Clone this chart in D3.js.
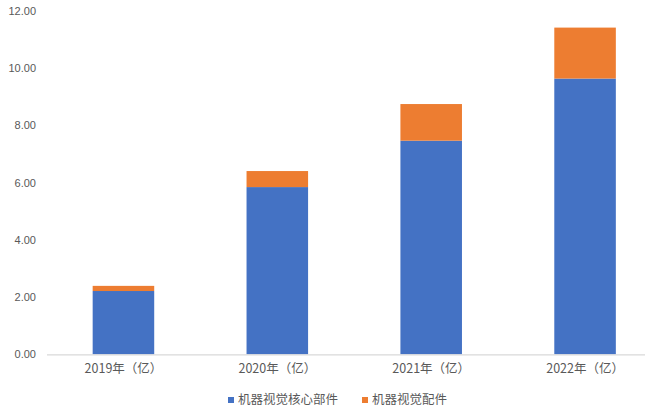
<!DOCTYPE html>
<html>
<head>
<meta charset="utf-8">
<script src="https://cdn.jsdelivr.net/npm/d3@7"></script>
<style>
  body { margin: 0; background: #fff; }
  text { font-family: "Noto Sans CJK SC", "Noto Sans", sans-serif; fill: #595959; }
</style>
</head>
<body>
<script>
var years = ["2019年（亿）", "2020年（亿）", "2021年（亿）", "2022年（亿）"];
var coreParts = [2.21, 5.84, 7.46, 9.63];     // 机器视觉核心部件
var accessories = [0.18, 0.56, 1.28, 1.78];   // 机器视觉配件
var seriesNames = ["机器视觉核心部件", "机器视觉配件"];
var yTicks = [0, 2, 4, 6, 8, 10, 12];

var width = 645;
var height = 412;
var colors = ["#4472c4", "#ed7d31"];

var svg = d3.select("body")
  .append("svg")
  .attr("width", width)
  .attr("height", height);

var x = d3.scaleBand()
  .domain(years)
  .range([46.5, 662])
  .paddingInner(0.6)
  .paddingOuter(0.3);

var y = d3.scaleLinear()
  .domain([0, 12])
  .range([354.3, 10.7]);

// stacked data
var rows = years.map(function(d, i) {
  return { year: d, core: coreParts[i], acc: accessories[i] };
});
var stack = d3.stack().keys(["core", "acc"]);
var layers = stack(rows);

// y axis labels only
var yAxis = svg.append("g")
  .attr("transform", "translate(36,0)")
  .call(d3.axisLeft(y).tickValues(yTicks).tickFormat(d3.format(".2f")).tickSize(0).tickPadding(0));
yAxis.select(".domain").remove();
yAxis.selectAll("text")
  .attr("font-size", 11)
  .style("font-family", "'Liberation Sans', 'Noto Sans', sans-serif")
  .attr("fill", "#595959");

// bars
svg.selectAll("g.layer")
  .data(layers)
  .enter()
  .append("g")
  .attr("class", "layer")
  .attr("fill", function(d, i) { return colors[i]; })
  .selectAll("rect")
  .data(function(d) { return d; })
  .enter()
  .append("rect")
  .attr("x", function(d) { return x(d.data.year); })
  .attr("width", x.bandwidth())
  .attr("y", function(d) { return y(d[1]); })
  .attr("height", function(d) { return y(d[0]) - y(d[1]); });

// x axis
var xAxis = svg.append("g")
  .attr("transform", "translate(0," + y(0) + ")")
  .call(d3.axisBottom(x).tickSize(0).tickPadding(10));
xAxis.select(".domain")
  .attr("stroke", "#d9d9d9")
  .attr("stroke-width", 1.2);
xAxis.selectAll("text")
  .attr("font-size", 12.5)
  .attr("fill", "#595959");

// legend
var legend = svg.append("g").attr("transform", "translate(228,400)");
var legendX = [0, 134];
seriesNames.forEach(function(name, i) {
  var g = legend.append("g").attr("transform", "translate(" + legendX[i] + ",0)");
  g.append("rect")
    .attr("x", 0)
    .attr("y", -3)
    .attr("width", 6)
    .attr("height", 6)
    .attr("fill", colors[i]);
  g.append("text")
    .attr("x", 10)
    .attr("y", 0)
    .attr("dy", "0.35em")
    .attr("font-size", 12.5)
    .text(name);
});
</script>
</body>
</html>
